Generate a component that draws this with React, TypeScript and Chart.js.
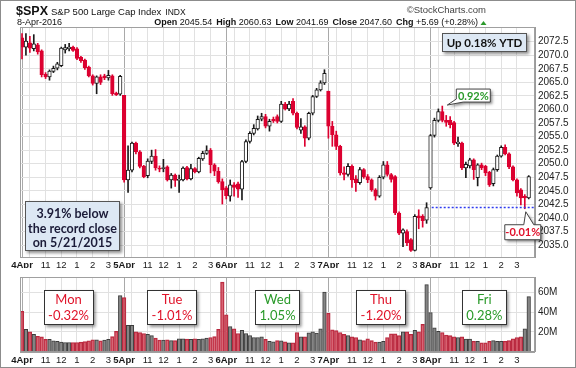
import React, { useEffect, useRef } from 'react';
import { Chart, registerables } from 'chart.js';
Chart.register(...registerables);

const FONT = '"Liberation Sans", Arial, sans-serif';
const LATO = 'Lato, "Liberation Sans", sans-serif';
const RED = '#dc0030';
const BARS_PER_DAY = 26;

const dayLabels = ['4Apr', '5Apr', '6Apr', '7Apr', '8Apr'];
const dayNames = ['Mon', 'Tue', 'Wed', 'Thu', 'Fri'];
const dayChanges = ['-0.32%', '-1.01%', '1.05%', '-1.20%', '0.28%'];
const changeBoxBars = [11.85, 38.2, 65.05, 91.4, 117.7];
const hourTickOffsets = [2, 6, 10, 14, 18, 22];
const hourTickLabels = ['', '11', '12', '1', '2', '3'];
const priceTicks = [2035, 2037.5, 2040, 2042.5, 2045, 2047.5, 2050, 2052.5, 2055, 2057.5, 2060, 2062.5, 2065, 2067.5, 2070, 2072.5];
const volumeTicks = [0, 20, 40, 60];
const priorClose = 2072.78;
const lastClose = 2041.91;
const highBar = 107;
const lowBar = 128;

const openP = [
  2073.2, 2071.5, 2072.3, 2071.2, 2071.9, 2070.8, 2066.5, 2066.0, 2067.0, 2067.6, 2068.1, 2071.0, 2071.2, 2071.5, 2071.2, 2069.6, 2069.1, 2067.8, 2066.2, 2064.8, 2066.0, 2066.2, 2065.8, 2066.2, 2063.0, 2062.8,
  2062.59, 2047.0, 2048.8, 2053.8, 2052.2, 2049.5, 2047.8, 2050.4, 2051.4, 2049.2, 2049.1, 2049.4, 2047.0, 2047.9, 2046.9, 2047.0, 2049.3, 2047.2, 2049.1, 2048.5, 2050.9, 2051.9, 2052.5, 2049.8, 2048.6, 2046.7,
  2045.56, 2044.0, 2046.1, 2046.3, 2045.3, 2050.4, 2054.1, 2055.6, 2056.4, 2058.2, 2058.7, 2056.9, 2058.2, 2058.7, 2057.8, 2061.0, 2060.1, 2061.5, 2059.3, 2056.2, 2056.8, 2054.7, 2059.3, 2062.4, 2063.6, 2064.9,
  2063.37, 2056.9, 2055.3, 2053.2, 2048.3, 2048.0, 2049.5, 2047.2, 2046.5, 2048.9, 2047.6, 2047.0, 2045.2, 2044.0, 2047.5, 2049.8, 2048.0, 2047.6, 2040.9, 2037.2, 2037.5, 2036.0, 2034.0, 2040.4, 2040.3, 2039.6,
  2045.54, 2055.2, 2058.0, 2059.6, 2058.0, 2058.0, 2057.6, 2053.7, 2053.8, 2049.2, 2049.6, 2050.7, 2047.4, 2049.8, 2049.5, 2048.4, 2046.3, 2048.9, 2051.4, 2053.0, 2051.8, 2049.4, 2047.0, 2045.2, 2044.0, 2043.7,
];
const highP = [
  2074.0, 2074.0, 2073.5, 2073.8, 2072.2, 2071.0, 2066.8, 2067.3, 2068.0, 2068.7, 2071.5, 2072.0, 2072.2, 2071.7, 2071.4, 2069.8, 2069.3, 2068.0, 2066.4, 2066.2, 2066.4, 2066.5, 2067.2, 2066.4, 2063.2, 2066.3,
  2062.59, 2053.3, 2054.0, 2054.0, 2052.4, 2049.7, 2050.9, 2052.5, 2052.6, 2049.6, 2050.8, 2049.6, 2048.2, 2048.1, 2047.9, 2049.4, 2049.5, 2049.9, 2049.3, 2051.2, 2052.3, 2053.3, 2052.8, 2050.0, 2049.3, 2047.2,
  2045.8, 2047.0, 2046.5, 2046.6, 2050.6, 2054.4, 2055.9, 2057.2, 2058.8, 2059.3, 2059.1, 2058.2, 2058.6, 2059.0, 2061.5, 2061.3, 2061.5, 2062.0, 2059.5, 2058.3, 2057.0, 2059.5, 2062.6, 2063.9, 2065.3, 2067.33,
  2063.37, 2057.8, 2056.0, 2053.4, 2049.4, 2050.0, 2049.8, 2047.8, 2049.3, 2049.1, 2048.0, 2047.2, 2045.4, 2047.8, 2050.4, 2050.4, 2048.2, 2047.8, 2041.1, 2038.0, 2037.8, 2036.2, 2040.6, 2041.5, 2040.6, 2042.8,
  2055.4, 2058.4, 2060.1, 2060.63, 2058.9, 2058.7, 2057.8, 2054.9, 2054.0, 2050.3, 2051.0, 2050.9, 2050.0, 2050.1, 2049.7, 2048.6, 2049.2, 2051.6, 2053.3, 2053.5, 2052.0, 2049.6, 2047.2, 2045.4, 2044.3, 2047.8,
];
const lowP = [
  2069.3, 2070.0, 2070.5, 2070.8, 2070.2, 2066.0, 2065.7, 2065.4, 2066.8, 2067.3, 2067.9, 2070.4, 2070.8, 2070.7, 2069.2, 2068.7, 2067.4, 2066.0, 2064.5, 2062.9, 2064.6, 2065.5, 2065.4, 2062.6, 2062.57, 2062.6,
  2046.6, 2044.7, 2048.5, 2051.8, 2049.2, 2047.4, 2047.4, 2050.0, 2048.8, 2048.5, 2048.5, 2046.8, 2045.5, 2045.8, 2044.7, 2046.8, 2047.0, 2047.0, 2048.3, 2048.3, 2050.6, 2051.7, 2048.3, 2047.8, 2046.4, 2042.56,
  2043.5, 2043.09, 2044.0, 2043.8, 2043.3, 2050.2, 2053.8, 2055.3, 2056.2, 2057.9, 2056.6, 2056.0, 2057.6, 2057.5, 2057.6, 2059.9, 2059.8, 2059.0, 2056.4, 2055.6, 2053.2, 2054.4, 2059.0, 2062.2, 2063.4, 2064.6,
  2054.7, 2053.2, 2052.6, 2047.9, 2047.0, 2047.7, 2045.6, 2044.9, 2046.2, 2047.3, 2046.5, 2044.9, 2043.3, 2043.8, 2047.2, 2047.7, 2046.6, 2040.6, 2036.9, 2034.7, 2034.9, 2033.8, 2033.9, 2038.0, 2038.3, 2039.0,
  2045.3, 2054.9, 2057.7, 2057.7, 2056.9, 2056.6, 2053.5, 2053.2, 2048.9, 2047.4, 2049.2, 2047.1, 2045.9, 2048.9, 2047.8, 2045.8, 2045.9, 2048.6, 2051.2, 2051.6, 2049.1, 2046.8, 2044.0, 2042.4, 2041.69, 2043.5,
];
const closeP = [
  2071.5, 2072.6, 2071.3, 2072.1, 2070.6, 2066.4, 2066.0, 2067.1, 2067.6, 2068.4, 2071.3, 2071.4, 2071.5, 2070.9, 2069.4, 2069.0, 2067.7, 2066.2, 2064.8, 2066.0, 2065.0, 2065.8, 2066.3, 2062.9, 2062.7, 2066.13,
  2047.0, 2048.8, 2053.8, 2052.2, 2049.5, 2047.6, 2050.5, 2051.4, 2049.2, 2049.0, 2049.3, 2047.0, 2047.9, 2046.9, 2047.1, 2049.2, 2047.2, 2049.1, 2048.5, 2051.0, 2051.9, 2052.4, 2049.8, 2048.6, 2046.7, 2045.17,
  2044.1, 2046.1, 2045.6, 2045.3, 2050.4, 2054.1, 2055.6, 2056.5, 2058.2, 2058.7, 2056.9, 2057.8, 2057.9, 2057.8, 2061.0, 2060.1, 2061.0, 2059.3, 2056.7, 2056.8, 2054.7, 2059.3, 2062.4, 2063.6, 2064.9, 2066.66,
  2056.9, 2055.3, 2053.2, 2048.3, 2048.0, 2049.5, 2047.0, 2046.5, 2048.9, 2047.6, 2047.0, 2045.2, 2044.0, 2047.5, 2049.8, 2048.0, 2047.1, 2040.9, 2037.2, 2037.8, 2035.4, 2034.0, 2040.3, 2040.0, 2039.5, 2041.91,
  2055.2, 2058.0, 2059.6, 2058.0, 2057.6, 2057.2, 2053.8, 2054.0, 2049.2, 2049.9, 2050.7, 2048.9, 2049.8, 2049.2, 2048.3, 2046.1, 2048.9, 2051.4, 2053.0, 2051.8, 2049.4, 2047.0, 2044.6, 2043.7, 2043.7, 2047.60,
];
// volume in millions
const volumeM = [
  41, 22.5, 20, 17.5, 15.6, 15, 12.4, 12.4, 11, 10.5, 9.5, 9.2, 9.2, 9.2, 9.2, 9.5, 10, 11, 12, 12, 11, 11.7, 12.5, 15.2, 20.6, 57,
  55, 26.7, 26.7, 20, 19.4, 18.4, 17.5, 16.2, 13.6, 11.7, 11.7, 12, 11.1, 11.1, 13, 13, 12.7, 12.4, 13, 12.4, 13, 13.6, 14.3, 15.2, 22.5, 70.8,
  37.5, 25.4, 23.2, 18.4, 21.6, 18.4, 16.2, 14.3, 14.3, 15, 12.4, 10.5, 9.8, 11.1, 10.8, 9.8, 8.9, 8.9, 19.4, 15, 15, 19, 20, 18.7, 23.2, 60.6,
  39, 22.2, 21.3, 19.4, 17.5, 16.2, 14.9, 14.3, 12, 11.1, 13, 11.1, 9.5, 9.5, 10.5, 14.3, 18.1, 18.1, 16.2, 20, 20, 17.5, 21.6, 20, 27.6, 68.3,
  39.7, 24.1, 20.6, 19.4, 16.8, 16.2, 14.9, 14.3, 14.9, 12.7, 12.7, 10.5, 10.5, 8.9, 8.9, 10.5, 11.1, 10.5, 10.5, 10.5, 11.1, 13, 14.3, 15, 23, 55.9,
];
const quoteFields = [['Open', '2045.54'], ['High', '2060.63'], ['Low', '2041.69'], ['Close', '2047.60'], ['Chg', '+5.69 (+0.28%)']];

const X_MIN = -0.51;
const X_MAX = 130.6;

const isUpCandle = closeP.map((c, i) => c >= openP[i]);
const candleColor = isUpCandle.map((u) => (u ? '#1a1a1a' : RED));
const candleFill = isUpCandle.map((u) => (u ? '#ffffff' : RED));
const volUp = closeP.map((c, i) => c >= (i === 0 ? priorClose : closeP[i - 1]));

const xTickValues: number[] = [];
for (let d = 0; d < dayLabels.length; d++) {
  xTickValues.push(d * BARS_PER_DAY);
  hourTickOffsets.forEach((o) => xTickValues.push(d * BARS_PER_DAY + o));
}
const xLabel = (v: number) => {
  const d = Math.floor(v / BARS_PER_DAY);
  const off = Math.round(v - d * BARS_PER_DAY);
  if (off === 0) return dayLabels[d];
  const k = hourTickOffsets.indexOf(off);
  return k >= 0 ? hourTickLabels[k] : '';
};
const isDayTick = (ctx: any) => ctx.tick && Math.round(ctx.tick.value) % BARS_PER_DAY === 0;

function xScale(height: number, padding: number) {
  return {
    type: 'linear',
    min: X_MIN,
    max: X_MAX,
    offset: false,
    afterBuildTicks: (s: any) => { s.ticks = xTickValues.map((v) => ({ value: v })); },
    afterFit: (s: any) => { s.height = height; },
    ticks: {
      autoSkip: false,
      maxRotation: 0,
      minRotation: 0,
      padding,
      color: '#1a1a1a',
      font: (ctx: any) => (isDayTick(ctx) ? { family: FONT, size: 9.5, weight: 'bold' } : { family: FONT, size: 9.5 }),
      callback: (v: any) => xLabel(Number(v)),
    },
    grid: {
      offset: false,
      drawTicks: false,
      color: (ctx: any) => (isDayTick(ctx) ? '#a9a9a9' : '#e1e1e1'),
    },
    border: { display: true, color: '#9a9a9a' },
  };
}

function shadowRect(ctx: CanvasRenderingContext2D, x: number, y: number, w: number, h: number, fill: string, stroke: string) {
  ctx.save();
  ctx.shadowColor = 'rgba(0,0,0,0.45)';
  ctx.shadowBlur = 3;
  ctx.shadowOffsetX = 2;
  ctx.shadowOffsetY = 2;
  ctx.fillStyle = fill;
  ctx.fillRect(x, y, w, h);
  ctx.restore();
  ctx.save();
  ctx.strokeStyle = stroke;
  ctx.lineWidth = 1;
  ctx.strokeRect(Math.round(x) + 0.5, Math.round(y) + 0.5, Math.round(w) - 1, Math.round(h) - 1);
  ctx.restore();
}

function calloutPath(ctx: CanvasRenderingContext2D, pts: number[][], fill: string, stroke: string) {
  ctx.save();
  ctx.beginPath();
  pts.forEach((p, i) => (i === 0 ? ctx.moveTo(p[0], p[1]) : ctx.lineTo(p[0], p[1])));
  ctx.closePath();
  ctx.shadowColor = 'rgba(0,0,0,0.45)';
  ctx.shadowBlur = 3;
  ctx.shadowOffsetX = 2;
  ctx.shadowOffsetY = 2;
  ctx.fillStyle = fill;
  ctx.fill();
  ctx.shadowColor = 'transparent';
  ctx.strokeStyle = stroke;
  ctx.lineWidth = 1;
  ctx.stroke();
  ctx.restore();
}

const pricePlugin = {
  id: 'priceDecor',
  beforeDraw(chart: any) {
    const ctx = chart.ctx;
    ctx.save();
    ctx.fillStyle = '#ffffff';
    ctx.fillRect(0, 0, chart.width, chart.height);
    ctx.restore();
  },
  afterDraw(chart: any) {
    const ctx: CanvasRenderingContext2D = chart.ctx;
    const a = chart.chartArea;
    const xs = chart.scales.x;
    const ys = chart.scales.y;
    // plot frame
    ctx.save();
    ctx.strokeStyle = '#a0a0a0';
    ctx.lineWidth = 1;
    ctx.strokeRect(Math.round(a.left) + 0.5, Math.round(a.top) + 0.5, Math.round(a.right - a.left) - 1, Math.round(a.bottom - a.top));
    ctx.restore();

    // header
    ctx.save();
    ctx.fillStyle = '#111';
    ctx.textBaseline = 'alphabetic';
    ctx.textAlign = 'left';
    let hx0 = 16;
    ctx.font = `bold 12.5px ${FONT}`;
    ctx.fillText('$SPX', hx0, 15);
    hx0 += ctx.measureText('$SPX').width + 3;
    ctx.font = `9.5px ${FONT}`;
    ctx.fillText('S&P 500 Large Cap Index', hx0, 15);
    hx0 += ctx.measureText('S&P 500 Large Cap Index').width + 4;
    ctx.font = `8.5px ${FONT}`;
    ctx.fillText('INDX', hx0, 15);
    ctx.font = `9px ${FONT}`;
    ctx.fillText('8-Apr-2016', 17, 25);
    ctx.fillStyle = '#444';
    ctx.textAlign = 'right';
    ctx.font = `9.5px ${FONT}`;
    ctx.fillText('\u00A9StockCharts.com', 486, 13);
    // quote line
    ctx.textAlign = 'left';
    const boldF = `bold 9px ${FONT}`;
    const regF = `9px ${FONT}`;
    const gap = 4;
    let total = 0;
    quoteFields.forEach(([l, v], i) => {
      ctx.font = boldF; total += ctx.measureText(l).width;
      ctx.font = regF; total += ctx.measureText(' ' + v).width;
      if (i < quoteFields.length - 1) total += gap;
    });
    let qx = 478 - total;
    quoteFields.forEach(([l, v]) => {
      ctx.fillStyle = '#111';
      ctx.font = boldF; ctx.fillText(l, qx, 25); qx += ctx.measureText(l).width;
      ctx.font = regF; ctx.fillText(' ' + v, qx, 25); qx += ctx.measureText(' ' + v).width + gap;
    });
    ctx.fillStyle = '#2c9a2c';
    ctx.beginPath();
    ctx.moveTo(480.5, 25); ctx.lineTo(486.5, 25); ctx.lineTo(483.5, 21); ctx.closePath(); ctx.fill();
    ctx.restore();

    // Up 0.18% YTD box
    const yb = { x: a.right - 93, y: a.top + 6, w: 85, h: 19 };
    shadowRect(ctx, yb.x, yb.y, yb.w, yb.h, '#dde8f4', '#555');
    ctx.save();
    ctx.fillStyle = '#111';
    ctx.font = `bold 11.5px ${LATO}`;
    ctx.textAlign = 'center';
    ctx.textBaseline = 'middle';
    ctx.fillText('Up 0.18% YTD', yb.x + yb.w / 2, yb.y + yb.h / 2 + 0.5);
    ctx.restore();

    // record-close box
    const rb = { x: a.left + 5, y: a.bottom - 56, w: 95, h: 50 };
    shadowRect(ctx, rb.x, rb.y, rb.w, rb.h, '#dde8f4', '#555');
    ctx.save();
    ctx.fillStyle = '#1b1b38';
    ctx.font = `bold 12.5px ${LATO}`;
    ctx.textAlign = 'center';
    ctx.textBaseline = 'middle';
    ['3.91% below', 'the record close', 'on 5/21/2015'].forEach((t, i) => {
      ctx.fillText(t, rb.x + rb.w / 2, rb.y + 13 + i * 14.5);
    });
    ctx.restore();

    // 0.92% callout at the day's high
    const hx = xs.getPixelForValue(highBar);
    const hy = ys.getPixelForValue(highP[highBar]);
    const c1 = { x: hx + 14, y: hy - 17, w: 34, h: 13 };
    calloutPath(ctx, [
      [c1.x, c1.y], [c1.x + c1.w, c1.y], [c1.x + c1.w, c1.y + c1.h], [c1.x + 7, c1.y + c1.h],
      [hx + 5, hy - 1], [c1.x, c1.y + c1.h - 3],
    ], '#ffffff', '#444');
    ctx.save();
    ctx.fillStyle = '#2a9a2a';
    ctx.font = `bold 11px ${LATO}`;
    ctx.textAlign = 'center';
    ctx.textBaseline = 'middle';
    ctx.fillText('0.92%', c1.x + c1.w / 2, c1.y + c1.h / 2 + 0.5);
    ctx.restore();

    // -0.01% callout at the day's low
    const lx = xs.getPixelForValue(lowBar);
    const ly = ys.getPixelForValue(lowP[lowBar]);
    const c2 = { x: lx - 20, y: ly + 16, w: 36, h: 15 };
    calloutPath(ctx, [
      [c2.x, c2.y], [c2.x + 19, c2.y], [lx + 1, ly + 3], [c2.x + 29, c2.y], [c2.x + c2.w, c2.y],
      [c2.x + c2.w, c2.y + c2.h], [c2.x, c2.y + c2.h],
    ], '#ffffff', '#444');
    ctx.save();
    ctx.fillStyle = '#e0102a';
    ctx.font = `bold 11px ${LATO}`;
    ctx.textAlign = 'center';
    ctx.textBaseline = 'middle';
    ctx.fillText('-0.01%', c2.x + c2.w / 2, c2.y + c2.h / 2 + 0.5);
    ctx.restore();
  },
};

const volumePlugin = {
  id: 'volDecor',
  beforeDraw(chart: any) {
    const ctx = chart.ctx;
    ctx.save();
    ctx.fillStyle = '#ffffff';
    ctx.fillRect(0, 0, chart.width, chart.height);
    ctx.restore();
  },
  afterDraw(chart: any) {
    const ctx: CanvasRenderingContext2D = chart.ctx;
    const a = chart.chartArea;
    const xs = chart.scales.x;
    ctx.save();
    ctx.strokeStyle = '#a0a0a0';
    ctx.lineWidth = 1;
    ctx.strokeRect(Math.round(a.left) + 0.5, Math.round(a.top) + 0.5, Math.round(a.right - a.left) - 1, Math.round(a.bottom - a.top));
    ctx.restore();
    dayNames.forEach((name, d) => {
      const cx = xs.getPixelForValue(changeBoxBars[d]);
      const chg = dayChanges[d];
      const col = chg.startsWith('-') ? '#e0142a' : '#2a9a2a';
      ctx.save();
      ctx.font = `13px ${LATO}`;
      const w = Math.max(ctx.measureText(chg).width + 9, 41);
      ctx.restore();
      const bx = cx - w / 2;
      const by = a.top + 13;
      shadowRect(ctx, bx, by, w, 35, '#ffffff', '#333');
      ctx.save();
      ctx.fillStyle = col;
      ctx.font = `13px ${LATO}`;
      ctx.textAlign = 'center';
      ctx.textBaseline = 'middle';
      ctx.fillText(name, cx, by + 10);
      ctx.fillText(chg, cx, by + 25.5);
      ctx.restore();
    });
  },
};

export default function App() {
  const priceRef = useRef<HTMLCanvasElement>(null);
  const volRef = useRef<HTMLCanvasElement>(null);

  useEffect(() => {
    const idx = closeP.map((_, i) => i);
    const priceChart = new Chart(priceRef.current as HTMLCanvasElement, {
      type: 'bar',
      data: {
        datasets: [
          {
            type: 'line',
            data: [{ x: BARS_PER_DAY * 4 + 0.3, y: lastClose }, { x: X_MAX, y: lastClose }],
            borderColor: '#2f3cf0',
            borderWidth: 1.5,
            borderDash: [2, 2],
            pointRadius: 0,
            order: 0,
          } as any,
          {
            data: idx.map((i) => ({ x: i, y: [openP[i], closeP[i]] })),
            backgroundColor: candleFill,
            borderColor: candleColor,
            borderWidth: 1,
            borderSkipped: false,
            barThickness: 3.6,
            minBarLength: 1,
            grouped: false,
            order: 1,
          } as any,
          {
            data: idx.map((i) => ({ x: i, y: [lowP[i], highP[i]] })),
            backgroundColor: candleColor,
            borderWidth: 0,
            barThickness: 1,
            grouped: false,
            order: 2,
          } as any,
        ],
      },
      options: {
        responsive: false,
        animation: false,
        devicePixelRatio: 1,
        layout: { padding: { left: 20, top: 27, right: 0, bottom: 0 } },
        plugins: { legend: { display: false }, tooltip: { enabled: false } },
        scales: {
          x: xScale(11, 3) as any,
          y: {
            position: 'right',
            min: 2032.79,
            max: 2075.21,
            afterBuildTicks: (s: any) => { s.ticks = priceTicks.map((v) => ({ value: v })); },
            afterFit: (s: any) => { s.width = 41; },
            ticks: { padding: 3, color: '#222', font: { family: FONT, size: 10 }, callback: (v: any) => Number(v).toFixed(1) },
            grid: { color: '#e1e1e1', drawTicks: false },
            border: { display: true, color: '#9a9a9a' },
          } as any,
        },
      },
      plugins: [pricePlugin],
    } as any);

    const volChart = new Chart(volRef.current as HTMLCanvasElement, {
      type: 'bar',
      data: {
        datasets: [
          {
            data: idx.map((i) => ({ x: i, y: volumeM[i] })),
            backgroundColor: volUp.map((u) => (u ? '#858585' : 'rgba(208,70,88,0.78)')),
            borderColor: volUp.map((u) => (u ? '#3c3c3c' : '#b8283e')),
            borderWidth: 1,
            borderSkipped: 'start',
            barThickness: 3.6,
            grouped: false,
          } as any,
        ],
      },
      options: {
        responsive: false,
        animation: false,
        devicePixelRatio: 1,
        layout: { padding: { left: 20, top: 2, right: 0, bottom: 0 } },
        plugins: { legend: { display: false }, tooltip: { enabled: false } },
        scales: {
          x: xScale(16.5, 3) as any,
          y: {
            position: 'right',
            min: 0,
            max: 76,
            afterBuildTicks: (s: any) => { s.ticks = volumeTicks.map((v) => ({ value: v })); },
            afterFit: (s: any) => { s.width = 41; },
            ticks: { padding: 3, color: '#222', font: { family: FONT, size: 10 }, callback: (v: any) => (Number(v) > 0 ? `${v}M` : '') },
            grid: { color: '#e1e1e1', drawTicks: false },
            border: { display: true, color: '#9a9a9a' },
          } as any,
        },
      },
      plugins: [volumePlugin],
    } as any);

    return () => {
      priceChart.destroy();
      volChart.destroy();
    };
  }, []);

  return (
    <div style={{ position: 'fixed', left: 0, top: 0, width: 576, height: 368, background: '#fff', overflow: 'hidden' }}>
      <canvas ref={priceRef} width={576} height={268} style={{ position: 'absolute', left: 0, top: 0, width: 576, height: 268 }} />
      <canvas ref={volRef} width={576} height={100} style={{ position: 'absolute', left: 0, top: 268, width: 576, height: 100 }} />
      <div style={{ position: 'absolute', left: 0, top: 0, width: 576, height: 368, boxSizing: 'border-box', border: '1px solid #8c8c8c', pointerEvents: 'none' }} />
    </div>
  );
}
